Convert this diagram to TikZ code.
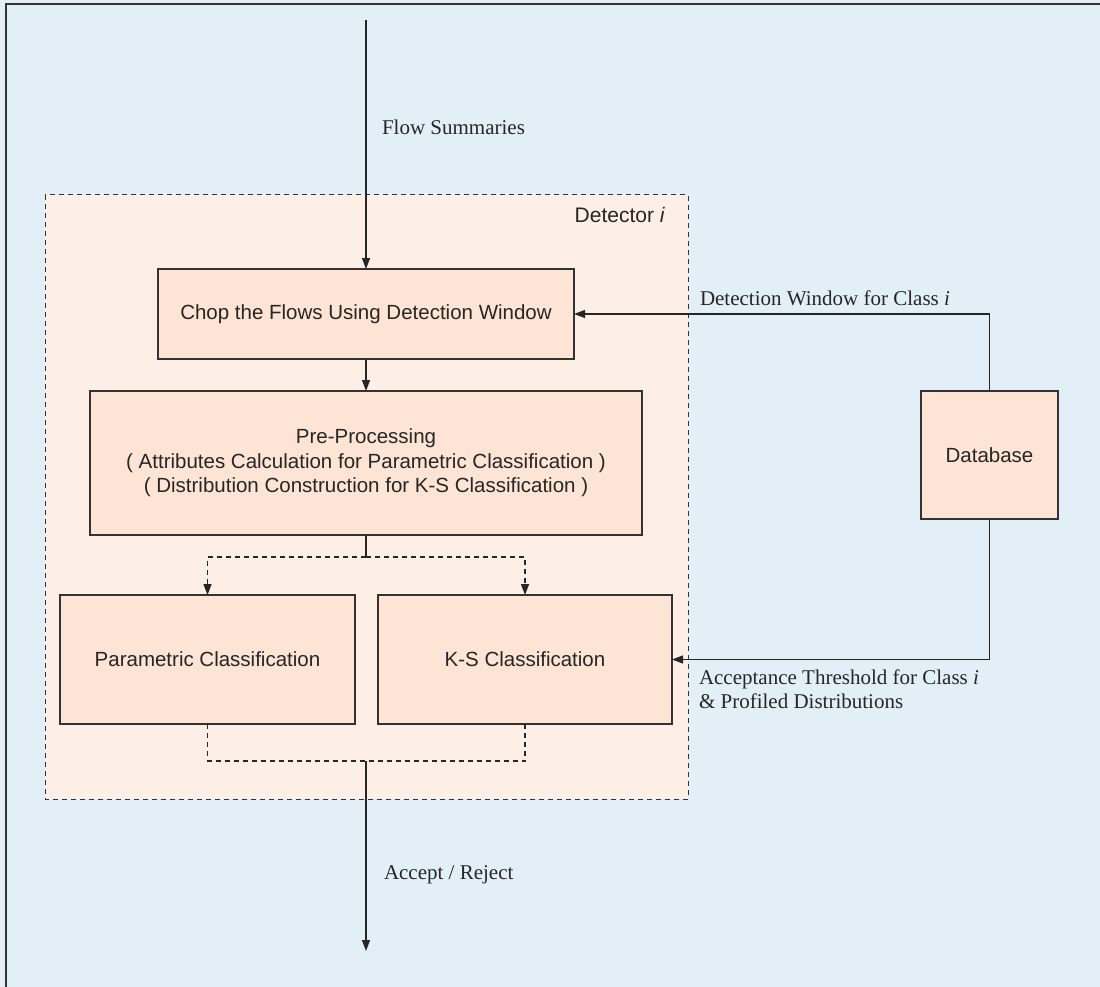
\documentclass[tikz,border=0pt]{standalone}
\usepackage{fontspec}
\setmainfont{Liberation Serif}
\setsansfont{Liberation Sans}
\usetikzlibrary{arrows.meta}
\definecolor{bgblue}{HTML}{E2EFF6}
\definecolor{detfill}{HTML}{FDEFE6}
\definecolor{boxfill}{HTML}{FDE4D4}
\definecolor{ink}{HTML}{333333}
\begin{document}
\begin{tikzpicture}[x=1pt,y=-1pt,
  every node/.style={inner sep=0pt,outer sep=0pt},
  stagebox/.style={draw=ink,line width=1.2pt,fill=boxfill,font=\sffamily\fontsize{20.5}{24.5}\selectfont,align=center,text=black!85},
  lbl/.style={font=\rmfamily\fontsize{21}{24}\selectfont,text=black!85,align=left},
  conn/.style={draw=black!85,line width=1.2pt},
  tip/.style={-{Triangle[length=11pt,width=8pt]}},
  dashline/.style={dash pattern=on 5pt off 4pt}]
\useasboundingbox (0,0) rectangle (1100,987);
% page background with its frame on the left and top
\fill[bgblue] (0,0) rectangle (1100,987);
\draw[ink,line width=1.5pt] (6,987) -- (6,4) -- (1100,4);
% detector region
\draw[black!80,line width=1pt,dashline,fill=detfill] (45,195) rectangle (688,799);
\node[font=\sffamily\fontsize{21}{24}\selectfont,text=black!85,anchor=east] (dettitle) at (665,215) {Detector \textit{i}};
% processing stages
\node[stagebox,minimum width=416pt,minimum height=90pt] (chop) at (366,314) {Chop the Flows Using Detection Window};
\node[stagebox,minimum width=552pt,minimum height=144pt] (pre) at (366,463)
  {Pre-Processing\\( Attributes Calculation for Parametric Classification )\\( Distribution Construction for K-S Classification )};
\node[stagebox,minimum width=295pt,minimum height=129pt] (param) at (207.5,659.5) {Parametric Classification};
\node[stagebox,minimum width=294pt,minimum height=129pt] (ks) at (525,659.5) {K-S Classification};
\node[stagebox,minimum width=137pt,minimum height=128pt] (db) at (989.5,455) {Database};
% junction points
\coordinate (src) at (366,20);
\coordinate (fork) at (366,557);
\coordinate (join) at (366,761);
\coordinate (out) at (366,951);
% input flow
\draw[conn,tip] (src) -- (chop.north);
\node[lbl,anchor=west] (flowlbl) at (382,127) {Flow Summaries};
\draw[conn,tip] (chop.south) -- (pre.north);
% split towards both classifiers
\draw[conn] (pre.south) -- (fork);
\draw[conn,dashline,tip] (fork) -| (param.north);
\draw[conn,dashline,tip] (fork) -| (ks.north);
% merge of the classifier results
\draw[conn,dashline] (param.south) |- (join) -| (ks.south);
\draw[conn,tip] (join) -- (out);
\node[lbl,anchor=west] (outlbl) at (384,875) {Accept / Reject};
% database feeds
\draw[conn,tip] (db.north) |- (chop.east);
\node[lbl,anchor=west] (winlbl) at (700,298) {Detection Window for Class \textit{i}};
\draw[conn,tip] (db.south) |- (ks.east);
\node[lbl,anchor=north west] (thrlbl) at (699,670) {Acceptance Threshold for Class \textit{i}\\\& Profiled Distributions};
\end{tikzpicture}
\end{document}
